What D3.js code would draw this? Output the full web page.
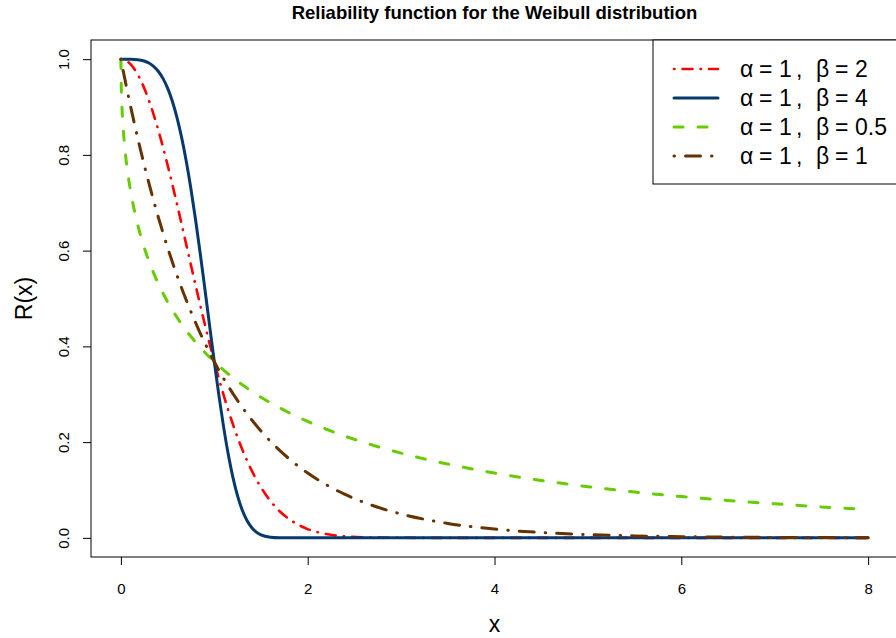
<!DOCTYPE html>
<html>
<head>
<meta charset="utf-8">
<script src="https://cdn.jsdelivr.net/npm/d3@7"></script>
<style>
  body { margin: 0; background: #fff; }
  text { font-family: "Liberation Sans", Arial, Helvetica, sans-serif; }
</style>
</head>
<body>
<script>
var width = 896;
var height = 638;

// x grid the curves were read on
var xs = [0, 0.005, 0.01, 0.02, 0.04, 0.07, 0.1, 0.15, 0.2, 0.25, 0.3, 0.35, 0.4, 0.45, 0.5,
  0.55, 0.6, 0.65, 0.7, 0.75, 0.8, 0.85, 0.9, 0.95, 1.0, 1.05, 1.1, 1.15, 1.2, 1.25, 1.3,
  1.35, 1.4, 1.45, 1.5, 1.6, 1.7, 1.8, 1.9, 2.0, 2.2, 2.4, 2.6, 2.8, 3.0, 3.5, 4, 4.5, 5,
  5.5, 6, 6.5, 7, 7.5, 8];

// R(x), one array per curve
var beta2 = [1, 1, 0.9999, 0.9996, 0.9984, 0.9951, 0.99, 0.9778, 0.9608, 0.9394, 0.9139, 0.8847, 0.8521, 0.8167, 0.7788,
  0.739, 0.6977, 0.6554, 0.6126, 0.5698, 0.5273, 0.4857, 0.4449, 0.4056, 0.3679, 0.332, 0.2982, 0.2665, 0.2369, 0.2096, 0.1845,
  0.1616, 0.1409, 0.1221, 0.1054, 0.0773, 0.0556, 0.0392, 0.0271, 0.0183, 0.0079, 0.0032, 0.0012, 0.0004, 0.0001, 0, 0, 0, 0,
  0, 0, 0, 0, 0, 0];
var beta4 = [1, 1, 1, 1, 1, 1, 0.9999, 0.9995, 0.9984, 0.9961, 0.9919, 0.9851, 0.9747, 0.9598, 0.9394,
  0.9126, 0.8784, 0.8365, 0.7866, 0.7288, 0.6639, 0.5933, 0.5189, 0.4429, 0.3679, 0.2966, 0.2313, 0.174, 0.1257, 0.0871, 0.0575,
  0.0361, 0.0215, 0.012, 0.0063, 0.0014, 0.0002, 0, 0, 0, 0, 0, 0, 0, 0, 0, 0, 0, 0,
  0, 0, 0, 0, 0, 0];
var beta05 = [1, 0.9317, 0.9048, 0.8681, 0.8187, 0.7675, 0.7289, 0.6789, 0.6394, 0.6065, 0.5783, 0.5534, 0.5313, 0.5113, 0.4931,
  0.4763, 0.4609, 0.4465, 0.4331, 0.4206, 0.4088, 0.3977, 0.3872, 0.3773, 0.3679, 0.3589, 0.3504, 0.3422, 0.3344, 0.3269, 0.3198,
  0.3129, 0.3063, 0.2999, 0.2938, 0.2822, 0.2715, 0.2614, 0.252, 0.2431, 0.2269, 0.2124, 0.1994, 0.1876, 0.1769, 0.154, 0.1353, 0.1199, 0.1069,
  0.0958, 0.0863, 0.0781, 0.071, 0.0647, 0.0591];
var beta1 = [1, 0.995, 0.99, 0.9802, 0.9608, 0.9324, 0.9048, 0.8607, 0.8187, 0.7788, 0.7408, 0.7047, 0.6703, 0.6376, 0.6065,
  0.5769, 0.5488, 0.522, 0.4966, 0.4724, 0.4493, 0.4274, 0.4066, 0.3867, 0.3679, 0.3499, 0.3329, 0.3166, 0.3012, 0.2865, 0.2725,
  0.2592, 0.2466, 0.2346, 0.2231, 0.2019, 0.1827, 0.1653, 0.1496, 0.1353, 0.1108, 0.0907, 0.0743, 0.0608, 0.0498, 0.0302, 0.0183, 0.0111, 0.0067,
  0.0041, 0.0025, 0.0015, 0.0009, 0.0006, 0.0003];

var alphas = ["1", "1", "1", "1"];
var betas = ["2", "4", "0.5", "1"];
var xTicks = [0, 2, 4, 6, 8];
var yTicks = [0, 0.2, 0.4, 0.6, 0.8, 1.0];

var series = [
  { values: beta2, color: "#ff0000", dash: "0.5,8,10,8", lw: 2.6 },
  { values: beta4, color: "#063a6e", dash: null, lw: 3 },
  { values: beta05, color: "#66cc00", dash: "9,15", lw: 3 },
  { values: beta1, color: "#663300", dash: "0.5,11,15,11", lw: 3 }
];
series.forEach(function(s, i) { s.alpha = alphas[i]; s.beta = betas[i]; });

var svg = d3.select("body")
  .append("svg")
  .attr("width", width)
  .attr("height", height);

// R pads the data range by 4% on each side
var x = d3.scaleLinear().domain([-0.32, 8.32]).range([91, 898]);
var y = d3.scaleLinear().domain([-0.04, 1.04]).range([557, 40]);

svg.append("defs").append("clipPath").attr("id", "plotclip")
  .append("rect")
  .attr("x", x.range()[0]).attr("y", y.range()[1])
  .attr("width", x.range()[1] - x.range()[0])
  .attr("height", y.range()[0] - y.range()[1]);

var line = d3.line()
  .x(function(d) { return x(d[0]); })
  .y(function(d) { return y(d[1]); })
  .curve(d3.curveMonotoneX);

svg.append("g")
  .attr("clip-path", "url(#plotclip)")
  .selectAll("path")
  .data(series)
  .enter().append("path")
    .attr("d", function(s) { return line(xs.map(function(v, i) { return [v, s.values[i]]; })); })
    .attr("fill", "none")
    .attr("stroke", function(s) { return s.color; })
    .attr("stroke-width", function(s) { return s.lw; })
    .attr("stroke-dasharray", function(s) { return s.dash; })
    .attr("stroke-linecap", "round")
    .attr("stroke-linejoin", "round");

// plot box
svg.append("rect")
  .attr("x", x.range()[0]).attr("y", y.range()[1])
  .attr("width", x.range()[1] - x.range()[0])
  .attr("height", y.range()[0] - y.range()[1])
  .attr("fill", "none")
  .attr("stroke", "#000")
  .attr("stroke-width", 1);

var xAxis = svg.append("g")
  .attr("transform", "translate(0," + y.range()[0] + ")")
  .call(d3.axisBottom(x).tickValues(xTicks).tickFormat(d3.format("d")).tickSize(8).tickPadding(18));
xAxis.select(".domain").remove();
xAxis.selectAll("text").attr("font-size", 15).attr("font-family", "Liberation Sans, Arial, sans-serif");
xAxis.selectAll("line").attr("stroke", "#000");

var yAxis = svg.append("g")
  .attr("transform", "translate(" + x.range()[0] + ",0)")
  .call(d3.axisLeft(y).tickValues(yTicks).tickFormat(d3.format(".1f")).tickSize(8).tickPadding(0));
yAxis.select(".domain").remove();
yAxis.selectAll("line").attr("stroke", "#000");
yAxis.selectAll("text")
  .attr("font-size", 15)
  .attr("font-family", "Liberation Sans, Arial, sans-serif")
  .attr("text-anchor", "middle")
  .attr("x", null)
  .attr("dy", null)
  .attr("transform", "translate(-27,0) rotate(-90)")
  .attr("y", 5);

// title and axis labels
svg.append("text")
  .attr("x", (x.range()[0] + x.range()[1]) / 2)
  .attr("y", 19)
  .attr("text-anchor", "middle")
  .attr("font-size", 18.5)
  .attr("font-weight", "bold")
  .text("Reliability function for the Weibull distribution");

svg.append("text")
  .attr("x", (x.range()[0] + x.range()[1]) / 2)
  .attr("y", 632)
  .attr("text-anchor", "middle")
  .attr("font-size", 23)
  .text("x");

svg.append("text")
  .attr("transform", "translate(32," + y(0.5) + ") rotate(-90)")
  .attr("text-anchor", "middle")
  .attr("font-size", 23)
  .text("R(x)");

// legend
var legend = svg.append("g");
legend.append("rect")
  .attr("x", 653).attr("y", 40)
  .attr("width", 260).attr("height", 144)
  .attr("fill", "#fff")
  .attr("stroke", "#000");

var item = legend.selectAll("g.item")
  .data(series)
  .enter().append("g")
    .attr("class", "item")
    .attr("transform", function(d, i) { return "translate(0," + (69 + i * 29) + ")"; });

item.append("line")
  .attr("x1", 674).attr("x2", 718)
  .attr("stroke", function(s) { return s.color; })
  .attr("stroke-width", function(s) { return s.lw; })
  .attr("stroke-dasharray", function(s) { return s.dash; })
  .attr("stroke-linecap", "round");

// plotmath-like spacing: each piece at its own x
var pieces = [
  { x: 740, t: function() { return "\u03B1"; } },
  { x: 759, t: function() { return "="; } },
  { x: 779, t: function(s) { return s.alpha; } },
  { x: 796, t: function() { return ","; } },
  { x: 816, t: function() { return "\u03B2"; } },
  { x: 835, t: function() { return "="; } },
  { x: 855, t: function(s) { return s.beta; } }
];

var label = item.append("text")
  .attr("y", 8)
  .attr("font-size", 23);
pieces.forEach(function(p) {
  label.append("tspan")
    .attr("x", p.x)
    .text(function(s) { return p.t(s); });
});
</script>
</body>
</html>
